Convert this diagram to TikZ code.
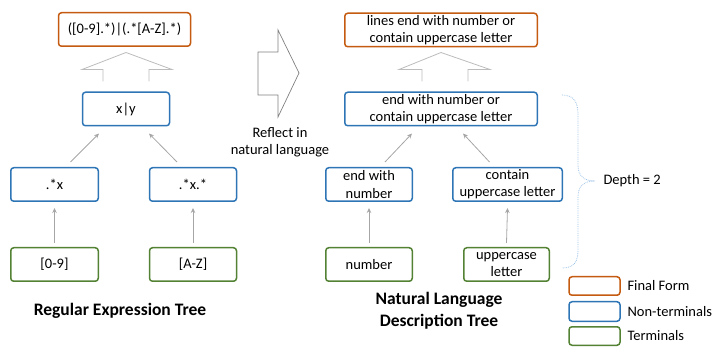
\documentclass[tikz,border=0pt]{standalone}
\usepackage{fontspec}
\setmainfont{Carlito}
\usetikzlibrary{arrows.meta}

\definecolor{finalcol}{HTML}{C55A11}
\definecolor{ntcol}{HTML}{2E75B6}
\definecolor{tcol}{HTML}{548235}
\definecolor{linkcol}{HTML}{A6A6A6}
\definecolor{bracecol}{HTML}{9DC3E6}
\definecolor{bigarrow}{HTML}{808080}

\tikzset{
  box/.style={draw, rounded corners=3pt, line width=1.5pt, minimum height=33.5pt,
    inner sep=1pt, align=center, font=\fontsize{14.5}{17.3}\selectfont},
  finalbox/.style={box, draw=finalcol},
  ntbox/.style={box, draw=ntcol},
  tbox/.style={box, draw=tcol},
  link/.style={draw=linkcol, line width=0.8pt, -{Stealth[length=5pt,width=4.5pt]}},
  lift/.style={draw=linkcol!75, line width=0.8pt},
  label/.style={font=\fontsize{14.5}{17.3}\selectfont, align=center},
  title/.style={font=\bfseries\fontsize{17.5}{22}\selectfont, align=center},
}

\begin{document}
\begin{tikzpicture}[x=1pt,y=-1pt]
\useasboundingbox (0,0) rectangle (712,347);

% Regular expression tree
\node[finalbox, minimum width=132pt] (lfinal) at (124.5,29.5) {([0-9].*)|(.*[A-Z].*)};
\node[ntbox, minimum width=87pt] (lxy) at (126,109) {x|y};
\node[ntbox, minimum width=87.5pt] (lx) at (54.5,184.5) {.*x};
\node[ntbox, minimum width=87pt] (lxx) at (193,184.5) {.*x.*};
\node[tbox, minimum width=87.5pt] (ldig) at (54.5,264.5) {[0-9]};
\node[tbox, minimum width=87pt] (laz) at (193,264.5) {[A-Z]};

\draw[link] ([yshift=4pt]ldig.north) -- ([yshift=-6pt]lx.south);
\draw[link] ([yshift=4pt]laz.north) -- ([yshift=-6pt]lxx.south);
\draw[link] ([xshift=16pt,yshift=5pt]lx.north) -- ([xshift=-27pt,yshift=-7pt]lxy.south);
\draw[link] ([xshift=-16pt,yshift=5pt]lxx.north) -- ([xshift=23pt,yshift=-7pt]lxy.south);

\begin{scope}[shift={(lxy.north)}]
\draw[lift] (-23,-10) -- (-23,-22) -- (-44,-22) -- (0,-39) -- (46,-22) -- (23,-22) -- (23,-10);
\end{scope}

\node[title] (ltitle) at (120,311) {Regular Expression Tree};

% Reflect arrow
\draw[draw=bigarrow, line width=0.7pt] (258,52) -- (278,52) -- (278,30) -- (299,73) -- (278,117) -- (278,95) -- (258,95) -- cycle;
\node[label] (reflect) at (280,142) {Reflect in\\natural language};

% Natural language description tree
\node[finalbox, minimum width=192.5pt] (rfinal) at (441,30) {lines end with number or\\contain uppercase letter};
\node[ntbox, minimum width=192.5pt] (rmid) at (441,109) {end with number or\\contain uppercase letter};
\node[ntbox, minimum width=86.5pt] (rend) at (369,184.5) {end with\\number};
\node[ntbox, minimum width=109.5pt] (rcont) at (507.5,184.5) {contain\\uppercase letter};
\node[tbox, minimum width=86.5pt] (rnum) at (369,264.5) {number};
\node[tbox, minimum width=85.5pt] (rupper) at (506.5,264.5) {uppercase\\letter};

\draw[link] ([yshift=4pt]rnum.north) -- ([yshift=-6pt]rend.south);
\draw[link] ([yshift=4pt]rupper.north) -- ([yshift=-6pt]rcont.south);
\draw[link] ([xshift=16pt,yshift=5pt]rend.north) -- ([xshift=-29pt,yshift=-7pt]rmid.south);
\draw[link] ([xshift=-18pt,yshift=5pt]rcont.north) -- ([xshift=22pt,yshift=-7pt]rmid.south);

\begin{scope}[shift={(rmid.north)}]
\draw[lift] (-19,-10) -- (-19,-22) -- (-42,-22) -- (0,-39) -- (49,-22) -- (27,-22) -- (27,-10);
\end{scope}

\node[title] (rtitle) at (439,311) {Natural Language\\Description Tree};

% Depth brace
\draw[draw=bracecol, densely dotted, line width=0.8pt] (562,95) .. controls (574,95) and (578,102) .. (578,115) -- (578,165)
  .. controls (578,176) and (584,181) .. (595,181) .. controls (584,181) and (578,186) .. (578,197)
  -- (578,250) .. controls (578,262) and (574,268) .. (562,268);
\node[label, anchor=west] (depth) at (600,181) {Depth = 2};

% Legend
\node[finalbox, minimum width=51pt, minimum height=18.5pt] (legfinal) at (594.5,286) {};
\node[ntbox, minimum width=51pt, minimum height=19.5pt] (legnt) at (594.5,311.5) {};
\node[tbox, minimum width=51pt, minimum height=18.5pt] (legt) at (594.5,336) {};
\node[label, anchor=west] (legfinaltext) at (624,286) {Final Form};
\node[label, anchor=west] (legnttext) at (624,311.5) {Non-terminals};
\node[label, anchor=west] (legttext) at (624,336) {Terminals};

\end{tikzpicture}
\end{document}
